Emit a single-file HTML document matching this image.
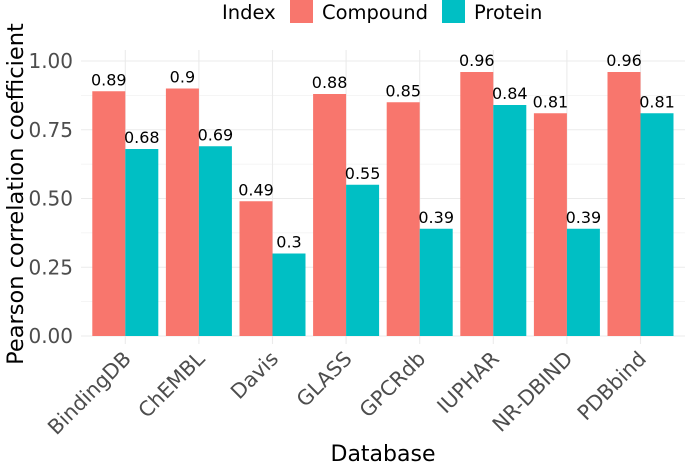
<!DOCTYPE html>
<html><head><meta charset="utf-8"><style>
body{margin:0;background:#fff;}
svg{display:block;font-family:"DejaVu Sans","Liberation Sans",sans-serif;}
</style></head><body>
<svg id="chart" width="685" height="464">
<g id="grid"></g><g id="bars"></g><g id="labels"></g><g id="axes"></g>
<text transform="translate(23,194) rotate(-90)" text-anchor="middle" font-size="22.5" fill="#000">Pearson correlation coefficient</text>
<text x="383" y="461" text-anchor="middle" font-size="22" fill="#000">Database</text>
<g>
<text x="222" y="19" font-size="19.5">Index</text>
<rect x="290" y="0" width="23" height="23" fill="#F8766D"/>
<text x="322" y="19" font-size="19.5">Compound</text>
<rect x="442" y="0" width="23" height="23" fill="#00BFC4"/>
<text x="474" y="19" font-size="19.5">Protein</text>
</g>
</svg>
<script>
const categories=["BindingDB","ChEMBL","Davis","GLASS","GPCRdb","IUPHAR","NR-DBIND","PDBbind"];
const compound=[0.89,0.9,0.49,0.88,0.85,0.96,0.81,0.96];
const protein=[0.68,0.69,0.3,0.55,0.39,0.84,0.39,0.81];
const yTicks=[0,0.25,0.5,0.75,1.0];
const yTickLabels=["0.00","0.25","0.50","0.75","1.00"];
const NS="http://www.w3.org/2000/svg";
const x0=125.3,step=73.6,y0=336,yk=275;
const xs=i=>x0+step*i, ys=v=>y0-v*yk;
const left=81,right=685;
function mk(tag,attrs,parent,txt){const e=document.createElementNS(NS,tag);for(const k in attrs)e.setAttribute(k,attrs[k]);if(txt!==undefined)e.textContent=txt;parent.appendChild(e);return e;}
const grid=document.getElementById('grid'),bars=document.getElementById('bars'),labels=document.getElementById('labels'),axes=document.getElementById('axes');
for(let t=0;t<yTicks.length;t++){
  const g=mk('line',{x1:left,x2:right,y1:ys(yTicks[t]),y2:ys(yTicks[t]),stroke:'#ebebeb','stroke-width':1.1},grid);
  
  
  if(t<yTicks.length-1){const m=mk('line',{x1:left,x2:right,y1:ys((yTicks[t]+yTicks[t+1])/2),y2:ys((yTicks[t]+yTicks[t+1])/2),stroke:'#ebebeb','stroke-width':0.6},grid);
  
  }
  const l=mk('text',{x:73,y:ys(yTicks[t])+7,'text-anchor':'end','font-size':20,fill:'#4d4d4d'},axes,yTickLabels[t]);
  
  
}
const hw=33;
categories.forEach((c,i)=>{
  const cx=xs(i);
  const v=mk('line',{x1:cx,x2:cx,y1:50,y2:344,stroke:'#ebebeb','stroke-width':1.1},grid);
  
  
  const b1=mk('rect',{x:cx-hw,y:ys(compound[i]),width:hw,height:ys(0)-ys(compound[i]),fill:'#F8766D'},bars);
  
  
  const b2=mk('rect',{x:cx,y:ys(protein[i]),width:hw,height:ys(0)-ys(protein[i]),fill:'#00BFC4'},bars);
  
  
  const t1=mk('text',{x:cx-hw/2,y:ys(compound[i])-6,'text-anchor':'middle','font-size':16,fill:'#000'},labels,String(compound[i]));
  
  
  const t2=mk('text',{x:cx+hw/2,y:ys(protein[i])-6,'text-anchor':'middle','font-size':16,fill:'#000'},labels,String(protein[i]));
  
  
  const xl=mk('text',{transform:`translate(${cx+7},${360}) rotate(-45)`,'text-anchor':'end','font-size':20.5,fill:'#4d4d4d'},axes,c);
  
  
});
</script>
</body></html>
